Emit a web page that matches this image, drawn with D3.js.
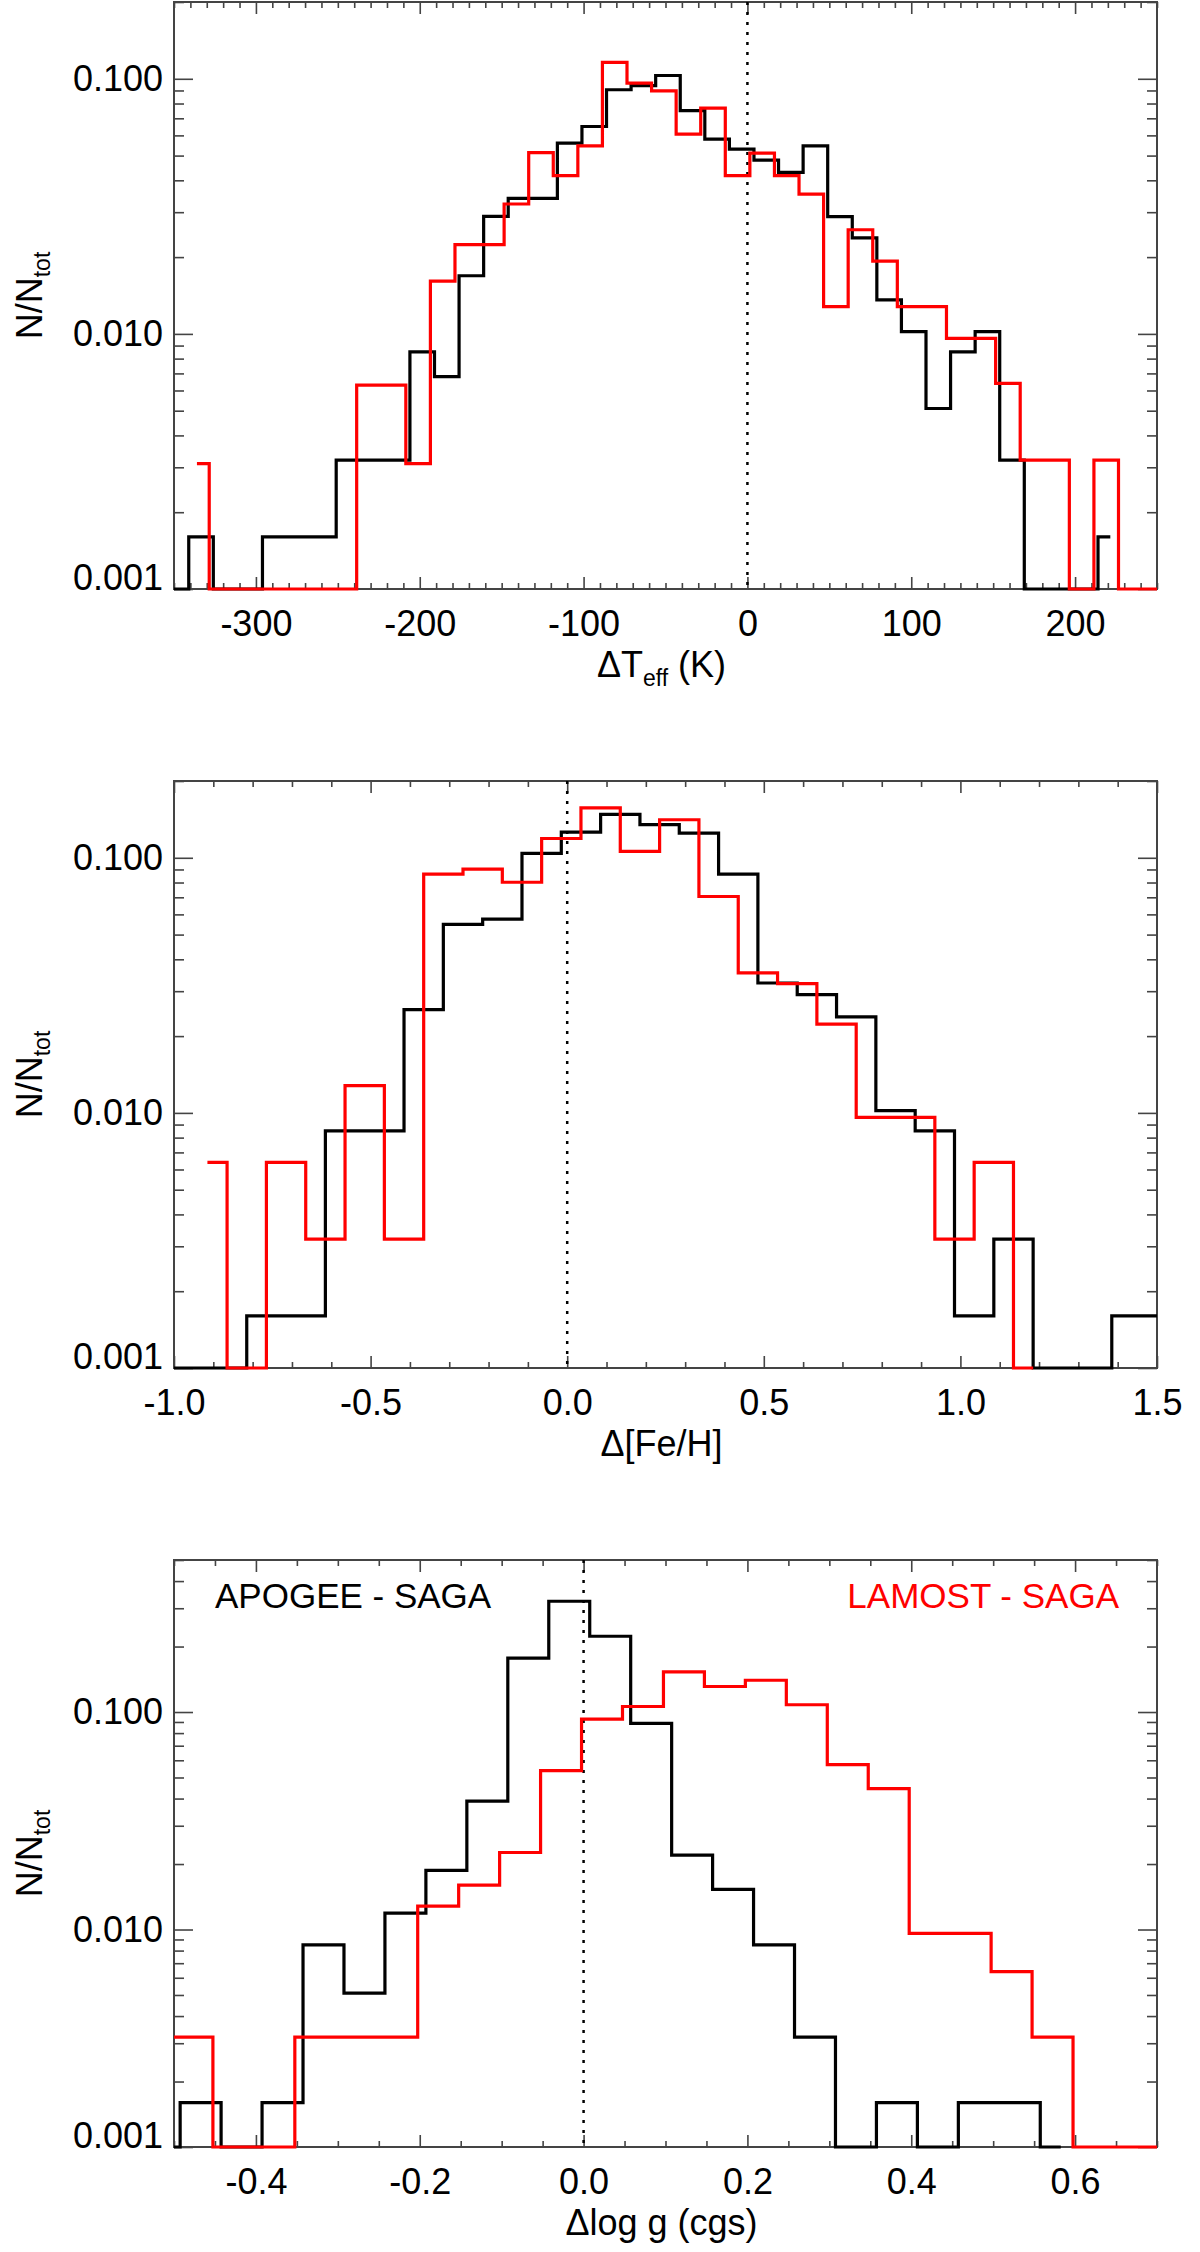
<!DOCTYPE html>
<html>
<head>
<meta charset="utf-8">
<style>
  body { margin: 0; background: #fff; }
  text { font-family: "Liberation Sans", Arial, Helvetica, sans-serif; }
</style>
</head>
<body>
<svg id="chart" width="1200" height="2252"></svg>
<script src="https://cdn.jsdelivr.net/npm/d3@7"></script>
<script>
// ---- data: bin centres and N/Ntot for each histogram ----
// delta Teff (K), bin width 15
const teffCentersApogee = [-363.5, -348.5, -333.5, -318.5, -303.5, -288.5, -273.5, -258.5, -243.5, -228.5,
  -213.5, -198.5, -183.5, -168.5, -153.5, -138.5, -123.5, -108.5, -93.5, -78.5,
  -63.5, -48.5, -33.5, -18.5, -3.5, 11.5, 26.5, 41.5, 56.5, 71.5,
  86.5, 101.5, 116.5, 131.5, 146.5, 161.5, 176.5, 191.5, 206.5, 221.5]
const teffApogee = [0, 0, 0.0016, 0, 0, 0.0016, 0.0016, 0.0016, 0.0032, 0.0032,
  0.0032, 0.0085, 0.0068, 0.0169, 0.0289, 0.034, 0.034, 0.056, 0.065, 0.0906,
  0.094, 0.103, 0.075, 0.058, 0.053, 0.048, 0.043, 0.0546, 0.0288, 0.0238,
  0.0136, 0.0102, 0.0051, 0.0085, 0.0102, 0.0032, 0, 0, 0, 0.0016]

const teffCentersLamost = [-336, -321, -306, -291, -276, -261, -246, -231, -216, -201,
  -186, -171, -156, -141, -126, -111, -96, -81, -66, -51,
  -36, -21, -6, 9, 24, 39, 54, 69, 84, 99,
  114, 129, 144, 159, 174, 189, 204, 219, 234, 249, 264]
const teffLamost = [0.0031, 0, 0, 0, 0, 0, 0, 0.0063, 0.0063, 0.0031,
  0.0161, 0.0224, 0.0224, 0.0323, 0.0514, 0.0417, 0.0546, 0.116, 0.0962, 0.0897,
  0.0607, 0.0767, 0.0417, 0.0511, 0.0417, 0.0353, 0.0128, 0.0256, 0.0193, 0.0128,
  0.0128, 0.0096, 0.0096, 0.0064, 0.0032, 0.0032, 0, 0.0032, 0, 0, 0]

// delta [Fe/H], bin width 0.1
const fehCentersApogee = [-1.065, -0.965, -0.865, -0.765, -0.665, -0.565, -0.465, -0.365, -0.265, -0.165,
  -0.065, 0.035, 0.135, 0.235, 0.335, 0.435, 0.535, 0.635, 0.735, 0.835,
  0.935, 1.035, 1.135, 1.235, 1.335, 1.435, 1.535]
const fehApogee = [0, 0, 0, 0.0016, 0.0016, 0.0085, 0.0085, 0.0254, 0.0548, 0.0575,
  0.104, 0.126, 0.148, 0.135, 0.125, 0.0863, 0.0323, 0.0291, 0.0238, 0.0102,
  0.0085, 0.0016, 0.0032, 0, 0, 0.0016, 0.0016]

const fehCentersLamost = [-0.915, -0.815, -0.715, -0.615, -0.515, -0.415, -0.315, -0.215, -0.115, -0.015,
  0.085, 0.185, 0.285, 0.385, 0.485, 0.585, 0.685, 0.785, 0.885, 0.985,
  1.085, 1.185]
const fehLamost = [0.0064, 0, 0.0064, 0.0032, 0.0128, 0.0032, 0.0863, 0.0902, 0.0802, 0.119,
  0.157, 0.106, 0.141, 0.0705, 0.0354, 0.0321, 0.0223, 0.0096, 0.0096, 0.0032,
  0.0064, 0]

// delta log g (cgs), bin width 0.05
const loggCentersApogee = [-0.5175, -0.4675, -0.4175, -0.3675, -0.3175, -0.2675, -0.2175, -0.1675, -0.1175, -0.0675,
  -0.0175, 0.0325, 0.0825, 0.1325, 0.1825, 0.2325, 0.2825, 0.3325, 0.3825, 0.4325,
  0.4825, 0.5325, 0.5825]
const loggApogee = [0, 0.0016, 0, 0.0016, 0.0085, 0.0051, 0.0119, 0.0187, 0.0389, 0.177,
  0.323, 0.223, 0.0887, 0.022, 0.0153, 0.0085, 0.0032, 0, 0.0016, 0,
  0.0016, 0.0016, 0]

const loggCentersLamost = [-0.5275, -0.4775, -0.4275, -0.3775, -0.3275, -0.2775, -0.2275, -0.1775, -0.1275, -0.0775,
  -0.0275, 0.0225, 0.0725, 0.1225, 0.1725, 0.2225, 0.2725, 0.3225, 0.3725, 0.4225,
  0.4725, 0.5225, 0.5725, 0.6225, 0.6725, 0.7225]
const loggLamost = [0.0032, 0.0032, 0, 0, 0.0032, 0.0032, 0.0032, 0.0128, 0.016, 0.0226,
  0.0538, 0.0927, 0.106, 0.153, 0.131, 0.140, 0.108, 0.0573, 0.0444, 0.0096,
  0.0096, 0.0064, 0.0032, 0, 0, 0]

// ticks and labels
const teffTicks = [-300, -200, -100, 0, 100, 200]
const fehTicks = [-1.0, -0.5, 0.0, 0.5, 1.0, 1.5]
const loggTicks = [-0.4, -0.2, 0.0, 0.2, 0.4, 0.6]
const yTicks = [0.001, 0.01, 0.1]
const legendLabels = ["APOGEE - SAGA", "LAMOST - SAGA"]
const seriesColors = ["#000000", "#ff0000"]

// ---- layout ----
const plotLeft = 174, plotRight = 1157, plotH = 587
const axisColor = "#444"
const svg = d3.select("#chart")
svg.append("rect").attr("width", 1200).attr("height", 2252).attr("fill", "#fff")

const panels = [
  { top: 2, xDomain: [-350, 250], yDomain: [0.001, 0.2], xTicks: teffTicks, minorStep: 10,
    fmt: d => String(d), title: "teff",
    series: [[teffCentersApogee, teffApogee], [teffCentersLamost, teffLamost]] },
  { top: 781, xDomain: [-1.0, 1.5], yDomain: [0.001, 0.2], xTicks: fehTicks, minorStep: 0.1,
    fmt: d => d.toFixed(1), title: "feh",
    series: [[fehCentersApogee, fehApogee], [fehCentersLamost, fehLamost]] },
  { top: 1560, xDomain: [-0.5, 0.7], yDomain: [0.001, 0.5], xTicks: loggTicks, minorStep: 0.05,
    fmt: d => d.toFixed(1), title: "logg", legend: true,
    series: [[loggCentersApogee, loggApogee], [loggCentersLamost, loggLamost]] }
]

function styleAxis(sel, labels) {
  sel.select(".domain").remove()
  sel.attr("color", axisColor)
    .attr("font-size", 36)
    .attr("font-family", '"Liberation Sans", Arial, Helvetica, sans-serif')
  sel.selectAll(".tick line").attr("stroke-width", 1.6)
  if (labels) sel.selectAll(".tick text").attr("fill", "#000")
  else sel.selectAll(".tick text").remove()
}

panels.forEach((p, i) => {
  let g = svg.append("g").attr("transform", `translate(0,${p.top})`)
  let x = d3.scaleLinear().domain(p.xDomain).range([plotLeft, plotRight])
  let y = d3.scaleLog().domain(p.yDomain).range([plotH, 0])

  // minor x ticks
  let n0 = Math.ceil(p.xDomain[0] / p.minorStep - 1e-6), n1 = Math.floor(p.xDomain[1] / p.minorStep + 1e-6)
  let xMinor = d3.range(n0, n1 + 1).map(k => +(k * p.minorStep).toFixed(4))
    .filter(v => !p.xTicks.some(t => Math.abs(t - v) < 1e-6))
  let yMinor = y.ticks().filter(v => !yTicks.some(t => Math.abs(t - v) / t < 1e-6))

  // bottom
  g.append("g").attr("transform", `translate(0,${plotH})`)
    .call(d3.axisBottom(x).tickValues(p.xTicks).tickFormat(p.fmt).tickSizeInner(-12).tickSizeOuter(0).tickPadding(21))
    .call(s => styleAxis(s, true))
  g.append("g").attr("transform", `translate(0,${plotH})`)
    .call(d3.axisBottom(x).tickValues(xMinor).tickFormat("").tickSizeInner(-6).tickSizeOuter(0))
    .call(s => styleAxis(s, false))
  // top
  g.append("g")
    .call(d3.axisTop(x).tickValues(p.xTicks).tickFormat("").tickSizeInner(-12).tickSizeOuter(0))
    .call(s => styleAxis(s, false))
  g.append("g")
    .call(d3.axisTop(x).tickValues(xMinor).tickFormat("").tickSizeInner(-6).tickSizeOuter(0))
    .call(s => styleAxis(s, false))
  // left
  g.append("g").attr("transform", `translate(${plotLeft},0)`)
    .call(d3.axisLeft(y).tickValues(yTicks).tickFormat(d3.format(".3f")).tickSizeInner(-19).tickSizeOuter(0).tickPadding(11))
    .call(s => styleAxis(s, true))
    .call(s => s.selectAll(".tick text").filter(d => d === p.yDomain[0]).attr("dy", "0em"))
  g.append("g").attr("transform", `translate(${plotLeft},0)`)
    .call(d3.axisLeft(y).tickValues(yMinor).tickFormat("").tickSizeInner(-10).tickSizeOuter(0))
    .call(s => styleAxis(s, false))
  // right
  g.append("g").attr("transform", `translate(${plotRight},0)`)
    .call(d3.axisRight(y).tickValues(yTicks).tickFormat("").tickSizeInner(-19).tickSizeOuter(0))
    .call(s => styleAxis(s, false))
  g.append("g").attr("transform", `translate(${plotRight},0)`)
    .call(d3.axisRight(y).tickValues(yMinor).tickFormat("").tickSizeInner(-10).tickSizeOuter(0))
    .call(s => styleAxis(s, false))

  // frame
  g.append("rect")
    .attr("x", plotLeft).attr("y", 0)
    .attr("width", plotRight - plotLeft).attr("height", plotH)
    .attr("fill", "none").attr("stroke", axisColor).attr("stroke-width", 2)

  // zero line
  g.append("line")
    .attr("x1", x(0)).attr("x2", x(0)).attr("y1", 0).attr("y2", plotH)
    .attr("stroke", "#000").attr("stroke-width", 2.5).attr("stroke-dasharray", "3,7")

  // histograms (IDL psym=10 style steps)
  let clipId = "clip" + i
  g.append("clipPath").attr("id", clipId)
    .append("rect").attr("x", plotLeft).attr("y", -6)
    .attr("width", plotRight - plotLeft).attr("height", plotH + 12)

  let line = d3.line().curve(d3.curveStep)
    .x(d => x(d[0]))
    .y(d => y(Math.max(d[1], p.yDomain[0])))

  p.series.forEach((s, j) => {
    g.append("path")
      .datum(d3.zip(s[0], s[1]))
      .attr("clip-path", `url(#${clipId})`)
      .attr("d", line)
      .attr("fill", "none")
      .attr("stroke", seriesColors[j])
      .attr("stroke-width", 3.2)
      .attr("stroke-linejoin", "miter")
  })

  // y title
  let yt = g.append("text")
    .attr("transform", `translate(42,${plotH / 2}) rotate(-90)`)
    .attr("text-anchor", "middle")
    .attr("font-size", 36)
    .attr("fill", "#000")
  yt.append("tspan").text("N/N")
  yt.append("tspan").attr("font-size", 23).attr("dy", 8).text("tot")

  // x title
  let xt = g.append("text")
    .attr("x", (plotLeft + plotRight) / 2 - 4)
    .attr("y", plotH + 88)
    .attr("text-anchor", "middle")
    .attr("font-size", 36)
    .attr("fill", "#000")
  if (p.title === "teff") {
    xt.append("tspan").text("\u0394T")
    xt.append("tspan").attr("font-size", 23).attr("dy", 9).text("eff")
    xt.append("tspan").attr("dy", -9).text(" (K)")
  } else if (p.title === "feh") {
    xt.text("\u0394[Fe/H]")
  } else {
    xt.text("\u0394log g (cgs)")
  }

  // legend
  if (p.legend) {
    g.append("text").attr("x", 215).attr("y", 48)
      .attr("font-size", 35).attr("fill", seriesColors[0]).text(legendLabels[0])
    g.append("text").attr("x", 1119).attr("y", 48).attr("text-anchor", "end")
      .attr("font-size", 35).attr("fill", seriesColors[1]).text(legendLabels[1])
  }
})
</script>
</body>
</html>
